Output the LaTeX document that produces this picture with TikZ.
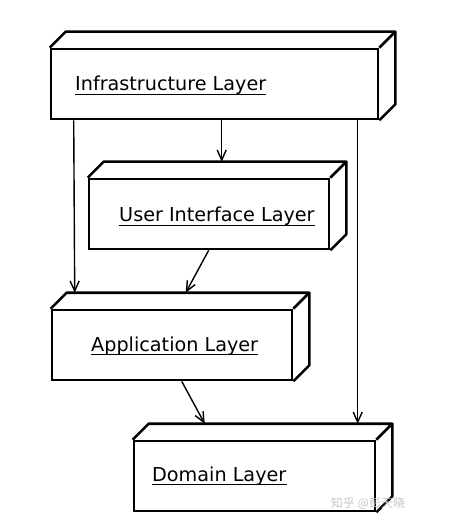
\documentclass[tikz,border=0pt]{standalone}
\usepackage{fontspec}
\setmainfont{DejaVu Sans}
\newfontfamily\cjk{Noto Sans CJK SC}
\usetikzlibrary{arrows.meta,calc}
\tikzset{
  layer/.style={draw, line width=2.6pt, rectangle, inner sep=0pt, minimum height=70pt},
  face/.style={line width=2.6pt, line join=round},
  lbl/.style={anchor=base west, inner sep=0pt, font=\fontsize{19.2}{22}\selectfont},
  uline/.style={line width=1.3pt},
  arr/.style={line width=1.4pt, -{Straight Barb[length=10pt,width=9pt,line width=1.4pt]}}
}
\newcommand\depthfaces[1]{%
  \draw[face] (#1.north west) -- ++(16,-16) -- ($(#1.north east)+(16,-16)$) -- (#1.north east);
  \draw[face] ($(#1.north east)+(16,-16)$) -- ($(#1.south east)+(16,-16)$) -- (#1.south east);
}
\newcommand\underlabel[1]{%
  \draw[uline] ($(#1.base west)+(0,3.5)$) -- ($(#1.base east)+(0,3.5)$);
}
\begin{document}
\begin{tikzpicture}[x=1pt,y=-1pt]
\useasboundingbox (0,0) rectangle (448,529);
\fill[white] (0,0) rectangle (448,529);
% boxes (front faces)
\node[layer, minimum width=327pt] (infra) at (214.5,84) {};
\node[layer, minimum width=240pt] (ui) at (209,214) {};
\node[layer, minimum width=240pt] (app) at (172,345) {};
\node[layer, minimum width=241pt] (dom) at (254.5,476) {};
\depthfaces{infra}
\depthfaces{ui}
\depthfaces{app}
\depthfaces{dom}
% labels
\node[lbl] (infraL) at (75,91) {Infrastructure Layer};
\node[lbl] (uiL) at (119,222) {User Interface Layer};
\node[lbl] (appL) at (91,351) {Application Layer};
\node[lbl] (domL) at (152,481) {Domain Layer};
\underlabel{infraL}
\underlabel{uiL}
\underlabel{appL}
\underlabel{domL}
% connectors
\draw[arr] ($(infra.south west)+(24,0)$) -- ($(app.north west)+(24,-16)$);
\draw[arr] ($(infra.south west)+(172,0)$) -- ($(ui.north west)+(134,-16)$);
\draw[arr] ($(infra.south west)+(308,0)$) -- ($(dom.north west)+(225,-16)$);
\draw[arr] ($(ui.south west)+(121,0)$) -- ($(app.north west)+(135,-16)$);
\draw[arr] ($(app.south west)+(131,0)$) -- ($(dom.north west)+(72,-16)$);
% watermark
\node[anchor=center, inner sep=0pt, text=gray!45, font=\cjk\fontsize{12}{14}\selectfont] (wm) at (368,503) {知乎 @彭天晓};
\end{tikzpicture}
\end{document}
